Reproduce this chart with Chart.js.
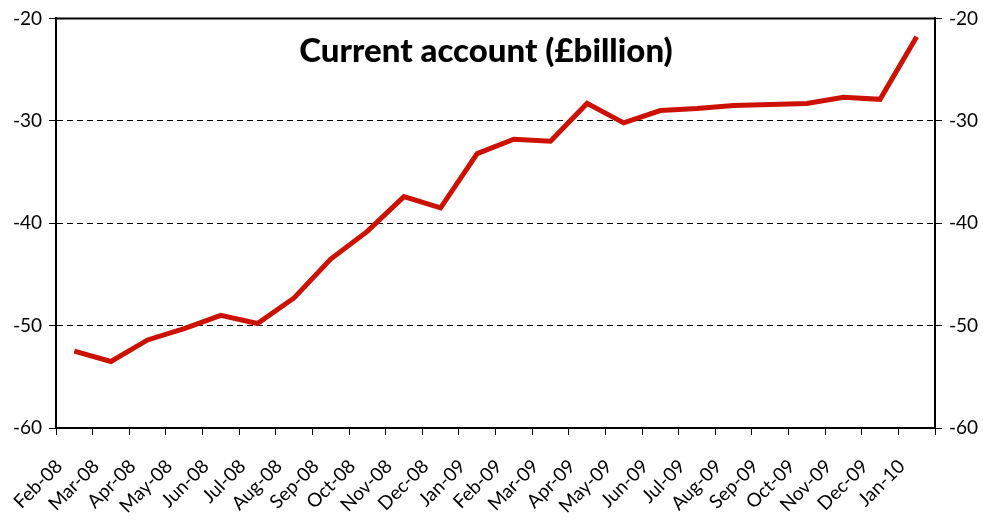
<!DOCTYPE html>
<html>
<head>
<meta charset="utf-8">
<script src="https://cdn.jsdelivr.net/npm/chart.js@4"></script>
<style>
  html, body { margin: 0; padding: 0; background: #fff; }
  #wrap { width: 983px; height: 520px; }
</style>
</head>
<body>
<div id="wrap"><canvas id="cChart"></canvas></div>
<script>
const months = ["Feb-08", "Mar-08", "Apr-08", "May-08", "Jun-08", "Jul-08", "Aug-08", "Sep-08",
  "Oct-08", "Nov-08", "Dec-08", "Jan-09", "Feb-09", "Mar-09", "Apr-09", "May-09", "Jun-09",
  "Jul-09", "Aug-09", "Sep-09", "Oct-09", "Nov-09", "Dec-09", "Jan-10"];
const current_account = [-52.5, -53.5, -51.4, -50.3, -49.0, -49.8, -47.3, -43.5,
  -40.8, -37.4, -38.5, -33.2, -31.8, -32.0, -28.3, -30.2, -29.0,
  -28.8, -28.5, -28.4, -28.3, -27.7, -27.9, -21.8];
const y_min = -60;
const y_max = -20;
const y_step = 10;
const title_text = "Current account (\u00a3billion)";

const fontName = "Lato, 'Open Sans', sans-serif";

// title sits inside the plot, plus the solid top edge of the frame
const frame = {
  id: "frame",
  afterDraw(chart) {
    const ctx = chart.ctx;
    const a = chart.chartArea;
    ctx.save();
    ctx.strokeStyle = "#000";
    ctx.lineWidth = 2;
    ctx.beginPath();
    ctx.moveTo(a.left - 1, a.top);
    ctx.lineTo(a.right + 1, a.top);
    ctx.stroke();
    ctx.fillStyle = "#000";
    ctx.font = "900 33px " + fontName;
    ctx.textAlign = "center";
    ctx.textBaseline = "middle";
    ctx.fillText(title_text, 486, 51);
    ctx.restore();
  }
};

new Chart(document.getElementById("cChart"), {
  type: "line",
  data: {
    labels: months,
    datasets: [{
      data: current_account,
      borderColor: "#cc1100",
      borderWidth: 5,
      pointRadius: 0,
      tension: 0,
      fill: false
    }]
  },
  options: {
    responsive: true,
    maintainAspectRatio: false,
    animation: false,
    layout: { padding: { top: 17, left: 0, right: 0, bottom: 0 } },
    plugins: { legend: { display: false }, tooltip: { enabled: false } },
    scales: {
      x: {
        offset: true,
        grid: { offset: true, drawOnChartArea: false, color: "#000", tickLength: 7, lineWidth: 1 },
        border: { color: "#000", width: 2 },
        ticks: {
          color: "#000",
          font: { family: fontName, size: 19 },
          maxRotation: 45,
          minRotation: 45,
          autoSkip: false,
          labelOffset: -15,
          padding: 20
        },
        afterFit(s) { s.height = 92; }
      },
      y: {
        position: "left",
        min: y_min,
        max: y_max,
        ticks: { stepSize: y_step, color: "#000", font: { family: fontName, size: 19 }, padding: 7 },
        grid: { color: "#000", lineWidth: 1, tickLength: 7 },
        border: { color: "#000", width: 2, dash: [6, 4] },
        afterFit(s) { s.width = 56; }
      },
      y2: {
        position: "right",
        min: y_min,
        max: y_max,
        ticks: { stepSize: y_step, color: "#000", font: { family: fontName, size: 19 }, padding: 7 },
        grid: { drawOnChartArea: false, color: "#000", tickLength: 7 },
        border: { color: "#000", width: 2 },
        afterFit(s) { s.width = 48; }
      }
    }
  },
  plugins: [frame]
});
</script>
</body>
</html>
